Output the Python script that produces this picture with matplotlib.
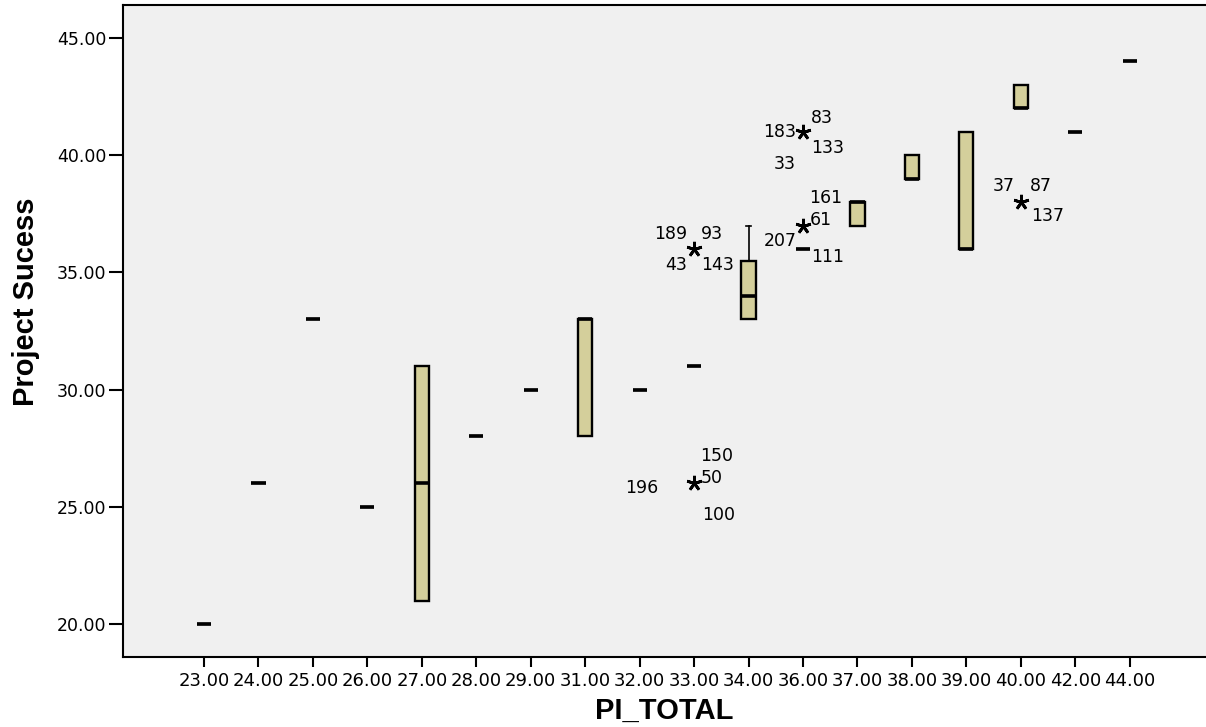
import matplotlib
matplotlib.use("Agg")
import matplotlib.pyplot as plt

# PI_TOTAL categories and box statistics (Project Sucess)
cats = [23, 24, 25, 26, 27, 28, 29, 31, 32, 33, 34, 36, 37, 38, 39, 40, 42, 44]
q1 = [20, 26, 33, 25, 21, 28, 30, 28, 30, 31, 33, 36, 37, 39, 36, 42, 41, 44]
med = [20, 26, 33, 25, 26, 28, 30, 33, 30, 31, 34, 36, 38, 39, 36, 42, 41, 44]
q3 = [20, 26, 33, 25, 31, 28, 30, 33, 30, 31, 35.5, 36, 38, 40, 41, 43, 41, 44]
whis_lo = [20, 26, 33, 25, 21, 28, 30, 28, 30, 31, 33, 36, 37, 39, 36, 42, 41, 44]
whis_hi = [20, 26, 33, 25, 31, 28, 30, 33, 30, 31, 37, 36, 38, 40, 41, 43, 41, 44]

# extreme values (stars) and their case labels
ext_cat = [33, 33, 36, 36, 40]
ext_val = [36, 26, 41, 37, 38]
ext_labels = [
    ["189", "93", "43", "143"],
    ["150", "50", "196", "100"],
    ["83", "183", "133", "33"],
    ["161", "61", "207", "111"],
    ["37", "87", "137"],
]
# label offsets around each star, in pixels (dx, dy) and alignment
lab_pos = [
    [(-23, 15, "center"), (18, 15, "center"), (-18, -16, "center"), (23, -16, "center")],
    [(23, 27, "center"), (7, 5, "left"), (-52, -5, "center"), (25, -32, "center")],
    [(19, 14, "center"), (-7, 0, "right"), (25, -16, "center"), (-18, -32, "center")],
    [(23, 28, "center"), (7, 6, "left"), (-6, -15, "right"), (25, -31, "center")],
    [(-17, 16, "center"), (20, 16, "center"), (27, -14, "center")],
]

fig = plt.figure(figsize=(12.06, 7.27), dpi=100)
ax = fig.add_axes([123 / 1206, 1 - 657 / 727, (1206 - 123) / 1206, (657 - 5) / 727])
ax.set_facecolor("#F0F0F0")

pos = list(range(len(cats)))
stats = []
for i in pos:
    stats.append(dict(med=med[i], q1=q1[i], q3=q3[i], whislo=whis_lo[i],
                      whishi=whis_hi[i], fliers=[]))

ax.bxp(stats, positions=pos, widths=0.26, capwidths=0.1, patch_artist=True,
       showfliers=False,
       boxprops=dict(facecolor="#D4CF9B", edgecolor="black", linewidth=1.7),
       medianprops=dict(color="black", linewidth=2.6, solid_capstyle="butt"),
       whiskerprops=dict(color="black", linewidth=1.2),
       capprops=dict(color="black", linewidth=1.2))

ext_pos = [cats.index(c) for c in ext_cat]
ax.plot(ext_pos, ext_val, linestyle="none", marker=(5, 2, 0), markersize=11,
        markeredgewidth=2, color="black", zorder=5)

for x, y, labs, lp in zip(ext_pos, ext_val, ext_labels, lab_pos):
    for t, (dx, dy, ha) in zip(labs, lp):
        ax.annotate(t, (x, y), xytext=(dx, dy), textcoords="offset pixels",
                    ha=ha, va="center", fontsize=12.5, family="DejaVu Sans")

ax.set_xlim(-1.487, 18.40)
ax.set_ylim(18.59, 46.41)
ax.set_xticks(pos)
ax.set_xticklabels(["%.2f" % c for c in cats], fontsize=13, family="DejaVu Sans")
yt = [20, 25, 30, 35, 40, 45]
ax.set_yticks(yt)
ax.set_yticklabels(["%.2f" % v for v in yt], fontsize=12.5, family="DejaVu Sans")
ax.tick_params(axis="y", length=10, width=1.5, pad=2)
ax.tick_params(axis="x", length=7, width=1.5, pad=4)

for s in ["left", "top", "bottom"]:
    ax.spines[s].set_linewidth(1.5)
ax.spines["right"].set_visible(False)

ax.set_xlabel("PI_TOTAL", fontsize=21, fontweight="bold", family="Liberation Sans", labelpad=5)
ax.set_ylabel("Project Sucess", fontsize=21, fontweight="bold", family="Liberation Sans")
ax.yaxis.set_label_coords(-0.077, 0.545)

fig.savefig("out.png", dpi=100)
